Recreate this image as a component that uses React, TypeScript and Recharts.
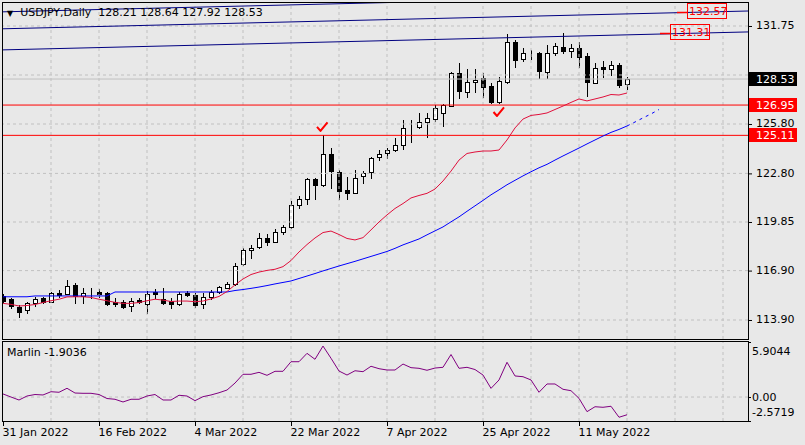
import React from "react";
import {
  ComposedChart,
  Bar,
  Line,
  XAxis,
  YAxis,
  ReferenceLine,
  ReferenceDot,
} from "recharts";

document.body.style.margin = "0";

// USDJPY daily bars, 31 Jan 2022 .. 19 May 2022
const opens = [
  115.36, 115.15, 114.67, 114.51, 114.91, 115.25, 115.01, 115.56, 115.48, 116.03,
  115.36, 115.62, 115.62, 115.52, 115.01, 115.01, 114.75, 115.11, 114.85, 115.58,
  115.18, 115.05, 114.85, 115.52, 115.42, 114.85, 115.28, 115.62, 115.84, 116.09,
  117.28, 118.15, 118.35, 118.86, 118.66, 119.22, 119.53, 120.88, 121.23, 122.44,
  122.09, 123.96, 122.9, 121.8, 121.63, 122.62, 122.9, 123.78, 124.03, 124.23,
  124.5, 125.63, 125.63, 125.9, 126.1, 126.45, 126.91, 128.88, 127.76, 128.33,
  128.57, 128.11, 127.16, 128.37, 130.8, 129.72, 130.05, 130.13, 128.98, 130.13,
  130.45, 130.25, 130.4, 129.93, 128.31, 129.28, 129.12, 129.38, 128.21,
];
const highs = [
  115.45, 115.22, 114.81, 115.01, 115.32, 115.32, 115.6, 115.72, 116.33, 116.13,
  115.82, 115.82, 115.76, 115.58, 115.22, 115.1, 115.22, 115.22, 115.66, 115.76,
  115.82, 115.22, 115.62, 115.66, 115.52, 115.56, 115.72, 115.97, 116.21, 117.34,
  118.25, 118.45, 119.16, 119.1, 119.43, 119.67, 121.12, 121.45, 122.5, 122.54,
  125.11, 124.32, 123.0, 122.56, 122.99, 122.96, 123.78, 124.22, 124.36, 124.94,
  126.06, 126.06, 126.49, 126.49, 126.95, 127.01, 128.97, 129.48, 129.12, 129.12,
  128.88, 128.27, 128.67, 131.26, 130.9, 130.4, 130.3, 130.19, 130.6, 130.74,
  131.34, 130.66, 130.8, 130.09, 129.48, 129.63, 129.63, 129.48, 128.64,
];
const lows = [
  115.0, 114.61, 114.1, 114.34, 114.75, 114.95, 114.97, 115.32, 115.48, 114.95,
  114.95, 115.22, 115.32, 114.81, 114.75, 114.61, 114.46, 114.91, 114.34, 115.22,
  114.85, 114.61, 114.81, 115.36, 114.67, 114.61, 115.2, 115.56, 115.82, 116.03,
  117.24, 117.68, 118.29, 118.45, 118.62, 119.14, 119.51, 120.72, 120.92, 121.23,
  122.05, 121.91, 121.23, 121.23, 121.63, 122.2, 122.5, 123.62, 123.72, 124.16,
  124.27, 124.72, 125.54, 125.03, 125.98, 125.68, 126.89, 127.4, 127.46, 127.74,
  127.46, 127.09, 127.09, 128.31, 129.28, 129.62, 129.72, 128.57, 128.57, 129.99,
  130.09, 129.89, 129.28, 127.5, 128.27, 128.67, 128.77, 128.03, 127.92,
];
const closes = [
  115.07, 114.75, 114.4, 114.91, 115.18, 115.01, 115.52, 115.4, 115.96, 115.36,
  115.56, 115.58, 115.48, 114.87, 114.87, 114.71, 115.05, 114.97, 115.48, 115.46,
  114.95, 114.85, 115.48, 115.4, 114.81, 115.31, 115.58, 115.89, 116.09, 117.2,
  118.15, 118.29, 118.86, 118.66, 119.26, 119.57, 120.88, 121.23, 122.44, 122.09,
  123.96, 122.94, 121.75, 121.63, 122.5, 122.82, 123.76, 123.98, 124.23, 124.52,
  125.58, 125.6, 125.93, 126.15, 126.76, 126.95, 128.88, 127.8, 128.33, 128.47,
  128.06, 127.16, 128.41, 130.8, 129.69, 130.09, 130.07, 129.03, 130.13, 130.53,
  130.25, 130.4, 129.89, 128.33, 129.18, 129.12, 129.38, 128.17, 128.53,
];

// moving averages as drawn on the chart
const fastMa = [
  114.91, 114.85, 114.75, 114.78, 114.84, 114.96, 115.07, 115.16, 115.3, 115.31,
  115.31, 115.27, 115.16, 115.07, 114.97, 114.91, 114.91, 114.96, 115.07, 115.16,
  115.11, 115.02, 115.05, 115.05, 115.01, 115.05, 115.18, 115.33, 115.63, 116.03,
  116.39, 116.66, 116.81, 116.91, 116.98, 117.14, 117.51, 118.03, 118.48, 118.88,
  119.21, 119.3, 119.09, 118.85, 118.76, 118.9, 119.37, 119.85, 120.28, 120.67,
  120.97, 121.31, 121.46, 121.59, 121.85, 122.34, 122.94, 123.61, 124.01, 124.1,
  124.16, 124.16, 124.22, 124.83, 125.56, 126.1, 126.32, 126.38, 126.47, 126.68,
  126.89, 127.11, 127.32, 127.2, 127.32, 127.44, 127.59, 127.56, 127.68,
];
const slowMa = [
  115.31, 115.31, 115.31, 115.31, 115.36, 115.36, 115.36, 115.36, 115.36, 115.36,
  115.36, 115.36, 115.36, 115.36, 115.6, 115.6, 115.6, 115.6, 115.6, 115.6,
  115.6, 115.6, 115.6, 115.6, 115.6, 115.6, 115.6, 115.6, 115.6, 115.69,
  115.75, 115.82, 115.9, 115.99, 116.09, 116.18, 116.27, 116.42, 116.57, 116.72,
  116.88, 117.03, 117.18, 117.32, 117.46, 117.61, 117.76, 117.91, 118.06, 118.25,
  118.46, 118.64, 118.82, 119.07, 119.31, 119.55, 119.86, 120.16, 120.5, 120.83,
  121.16, 121.5, 121.8, 122.11, 122.38, 122.65, 122.9, 123.14, 123.35, 123.61,
  123.86, 124.1, 124.34, 124.59, 124.83, 125.07, 125.29, 125.47, 125.68,
];
// dashed forward part of the slow average, bars 78..82
const slowMaAhead = [125.68, 125.92, 126.17, 126.41, 126.68];

const marlin = [
  0.33, 0.0, -0.32, 0.11, 0.27, 0.22, 0.57, 0.51, 0.94, 0.43,
  0.4, 0.4, 0.27, -0.16, -0.24, -0.53, -0.24, -0.24, 0.11, 0.27,
  -0.32, -0.32, 0.19, 0.11, -0.39, 0.04, 0.22, 0.46, 0.75, 1.5,
  2.44, 2.44, 2.65, 2.33, 2.76, 2.76, 3.79, 3.79, 4.69, 4.05,
  5.47, 4.16, 2.79, 2.36, 2.82, 2.72, 3.3, 3.04, 2.9, 2.9,
  3.54, 3.15, 3.08, 2.87, 3.11, 3.19, 4.56, 3.08, 3.19, 2.95,
  2.36, 0.93, 1.83, 3.73, 2.26, 2.18, 1.83, 0.51, 1.4, 1.4,
  0.83, 0.68, -0.14, -1.57, -1.04, -1.1, -0.99, -2.17, -1.9036,
];

const dateTicks = [0, 12, 24, 36, 48, 60, 72];
const dateLabels = [
  "31 Jan 2022",
  "16 Feb 2022",
  "4 Mar 2022",
  "22 Mar 2022",
  "7 Apr 2022",
  "25 Apr 2022",
  "11 May 2022",
];
const priceTicks = [131.75, 125.8, 122.8, 119.85, 116.9, 113.9];
const priceGrid = [131.75, 128.775, 125.8, 122.8, 119.85, 116.9, 113.9];
const gridBars = [6, 12, 18, 24, 30, 36, 42, 48, 54, 60, 66, 72, 78, 84, 90];
const oscTicks = [5.9044, 0, -2.5719];

const lastPrice = 128.53;
const levels = [126.95, 125.11];
// channel lines: [bar, price] at both ends
const channel = [
  [0, 130.3, 93.125, 131.39],
  [0, 131.58, 93.125, 132.66],
  [0, 132.61, 93.125, 133.7],
];
const tags = [
  { bar: 84.25, price: 132.57, text: "132.57" },
  { bar: 82.125, price: 131.31, text: "131.31" },
];
const checks = [
  [39.875, 125.62],
  [61.94, 126.53],
];

const X_MAX = 93.125;
const FONT = "'DejaVu Sans', sans-serif";

const mainData = Array.from({ length: 83 }, (_, i) => ({
  i,
  range: i < closes.length ? [lows[i], highs[i]] : undefined,
  open: opens[i],
  high: highs[i],
  low: lows[i],
  close: closes[i],
  fast: fastMa[i],
  slow: slowMa[i],
  ahead: i >= 78 ? slowMaAhead[i - 78] : undefined,
}));

const subData = marlin.map((v, i) => ({ i, marlin: v }));

const Candle = (props: any) => {
  const { x, y, width, height, payload } = props;
  if (!payload || payload.open == null) return null;
  const { open, close, high, low } = payload;
  const yTop = Math.min(y, y + height);
  const span = Math.abs(height);
  const k = span / (high - low);
  const cx = Math.round(x + width / 2);
  const py = (v: number) => Math.round(yTop + (high - v) * k);
  const top = py(Math.max(open, close));
  const bot = py(Math.min(open, close));
  const up = close >= open;
  return (
    <g>
      <line
        x1={cx + 0.5}
        x2={cx + 0.5}
        y1={py(high)}
        y2={py(low) + 1}
        stroke="#000"
        strokeWidth={1}
      />
      <rect
        x={cx - 1.5}
        y={top + 0.5}
        width={4}
        height={Math.max(bot - top, 0)}
        fill={up ? "#fff" : "#000"}
        stroke="#000"
        strokeWidth={1}
      />
    </g>
  );
};

const PriceTick = (props: any) => {
  const { y, payload } = props;
  return (
    <g>
      <line x1={749} x2={752} y1={y + 0.5} y2={y + 0.5} stroke="#000" />
      <text x={756} y={y} dominantBaseline="central" fontSize={11} fontFamily={FONT} fill="#000">
        {payload.value.toFixed(2)}
      </text>
    </g>
  );
};

const OscTick = (props: any) => {
  const { y, payload } = props;
  const v = payload.value;
  const dy = v === oscTicks[0] ? 9 : v === oscTicks[2] ? -8.5 : 0;
  const label = v === 0 ? "0.00" : v.toFixed(4);
  return (
    <g>
      <line x1={748} x2={751} y1={y + 0.5} y2={y + 0.5} stroke="#000" />
      <text x={752} y={y + dy} dominantBaseline="central" fontSize={11} fontFamily={FONT} fill="#000">
        {label}
      </text>
    </g>
  );
};

const DateTick = (props: any) => {
  const { x, payload } = props;
  const idx = dateTicks.indexOf(payload.value);
  const cx = Math.round(x);
  return (
    <g>
      <line x1={cx + 0.5} x2={cx + 0.5} y1={80} y2={85} stroke="#000" />
      <text x={cx - 0.5} y={91} dominantBaseline="central" fontSize={11} fontFamily={FONT} fill="#000">
        {dateLabels[idx]}
      </text>
    </g>
  );
};

const SideBox = ({ cx, cy, fill, text }: any) => (
  <g>
    <rect x={cx + 1} y={Math.round(cy) - 7} width={48} height={14} fill={fill} />
    <text x={756} y={cy} dominantBaseline="central" fontSize={11} fontFamily={FONT} fill="#fff">
      {text}
    </text>
  </g>
);

const Tag = ({ cx, cy, text }: any) => (
  <g>
    <line x1={cx} x2={cx + 10} y1={Math.round(cy) + 0.5} y2={Math.round(cy) + 0.5} stroke="#ff0000" strokeWidth={1.5} />
    <rect x={cx + 10.5} y={Math.round(cy) - 8.5} width={39} height={15} fill="none" stroke="#ff0000" />
    <text x={cx + 12} y={cy - 0.5} dominantBaseline="central" fontSize={11} fontFamily={FONT} fill="#ff0000">
      {text}
    </text>
  </g>
);

const Check = ({ cx, cy }: any) => (
  <path
    d={`M${cx - 5},${cy} L${cx - 1.5},${cy + 4} L${cx + 5.5},${cy - 4.5}`}
    fill="none"
    stroke="#ff0000"
    strokeWidth={2}
    strokeLinejoin="round"
  />
);

export default function App() {
  return (
    <div
      style={{
        position: "relative",
        width: 805,
        height: 445,
        background: "#e8e8e8",
        overflow: "hidden",
        fontFamily: FONT,
      }}
    >
      <div style={{ position: "absolute", left: 0, top: 0 }}>
        <ComposedChart
          width={805}
          height={339}
          data={mainData}
          margin={{ top: 3, right: 0, bottom: 0, left: 3 }}
        >
          <XAxis dataKey="i" type="number" domain={[0, X_MAX]} allowDataOverflow hide />
          <YAxis
            orientation="right"
            width={57}
            domain={[112.746, 133.146]}
            allowDataOverflow
            ticks={priceTicks}
            interval={0}
            tick={PriceTick}
            tickLine={false}
            axisLine={false}
          />
          {priceGrid.map((p) => (
            <ReferenceLine key={"h" + p} y={p} stroke="#c0c0c0" strokeDasharray="3 3" />
          ))}
          {gridBars.map((b) => (
            <ReferenceLine key={"v" + b} x={b} stroke="#c0c0c0" strokeDasharray="3 3" />
          ))}
          <ReferenceLine y={lastPrice} stroke="#c0c0c0" />
          {levels.map((p) => (
            <ReferenceLine key={"l" + p} y={p} stroke="#ff0000" />
          ))}
          {channel.map(([x1, y1, x2, y2], n) => (
            <ReferenceLine
              key={"c" + n}
              segment={[
                { x: x1, y: y1 },
                { x: x2, y: y2 },
              ]}
              stroke="#000080"
              strokeWidth={1}
              ifOverflow="hidden"
            />
          ))}
          <Line
            dataKey="slow"
            stroke="#0000ff"
            strokeWidth={1}
            dot={false}
            isAnimationActive={false}
          />
          <Line
            dataKey="ahead"
            stroke="#0000ff"
            strokeWidth={1}
            strokeDasharray="3 4"
            dot={false}
            isAnimationActive={false}
          />
          <Line
            dataKey="fast"
            stroke="#e0103c"
            strokeWidth={1}
            dot={false}
            isAnimationActive={false}
          />
          <Bar dataKey="range" barSize={5} shape={Candle} isAnimationActive={false} />
          {checks.map(([b, p], n) => (
            <ReferenceDot key={"k" + n} x={b} y={p} r={0} ifOverflow="visible" shape={Check} />
          ))}
          {tags.map((t) => (
            <ReferenceDot
              key={t.text}
              x={t.bar}
              y={t.price}
              r={0}
              ifOverflow="visible"
              shape={(p: any) => <Tag {...p} text={t.text} />}
            />
          ))}
          <ReferenceDot
            x={X_MAX}
            y={lastPrice}
            r={0}
            ifOverflow="visible"
            shape={(p: any) => <SideBox {...p} fill="#000" text={lastPrice.toFixed(2)} />}
          />
          {levels.map((v) => (
            <ReferenceDot
              key={"b" + v}
              x={X_MAX}
              y={v}
              r={0}
              ifOverflow="visible"
              shape={(p: any) => <SideBox {...p} fill="#ff0000" text={v.toFixed(2)} />}
            />
          ))}
        </ComposedChart>
      </div>

      <div style={{ position: "absolute", left: 0, top: 341 }}>
        <ComposedChart
          width={805}
          height={104}
          data={subData}
          margin={{ top: 1, right: 0, bottom: 0, left: 3 }}
        >
          <XAxis
            dataKey="i"
            type="number"
            domain={[0, X_MAX]}
            allowDataOverflow
            ticks={dateTicks}
            interval={0}
            height={24}
            tick={DateTick}
            tickLine={false}
            axisLine={false}
          />
          <YAxis
            orientation="right"
            width={57}
            domain={[oscTicks[2], oscTicks[0]]}
            allowDataOverflow
            ticks={oscTicks}
            interval={0}
            tick={OscTick}
            tickLine={false}
            axisLine={false}
          />
          {gridBars.map((b) => (
            <ReferenceLine key={"sv" + b} x={b} stroke="#c0c0c0" strokeDasharray="3 3" />
          ))}
          <ReferenceLine y={0} stroke="#c0c0c0" strokeDasharray="3 3" />
          <Line
            dataKey="marlin"
            stroke="#800080"
            strokeWidth={1}
            dot={false}
            isAnimationActive={false}
          />
        </ComposedChart>
      </div>

      {/* cover the half candle that sticks out past the left border */}
      <div
        style={{
          position: "absolute",
          left: 0,
          top: 3,
          width: 2,
          height: 336,
          background: "#e8e8e8",
        }}
      />
      <div
        style={{
          position: "absolute",
          left: 2,
          top: 2,
          width: 747,
          height: 338,
          border: "1px solid #000",
          boxSizing: "border-box",
          pointerEvents: "none",
        }}
      />
      <div
        style={{
          position: "absolute",
          left: 2,
          top: 341,
          width: 747,
          height: 81,
          border: "1px solid #000",
          boxSizing: "border-box",
          pointerEvents: "none",
        }}
      />

      <div
        style={{
          position: "absolute",
          left: 7,
          top: 6,
          fontSize: 11,
          lineHeight: "13px",
          whiteSpace: "pre",
          color: "#000",
        }}
      >
        <span style={{ fontSize: 8, marginRight: 7 }}>▼</span>
        {"USDJPY,Daily  " + [opens[78], highs[78], lows[78], closes[78]].map((v) => v.toFixed(2)).join(" ")}
      </div>
      <div
        style={{
          position: "absolute",
          left: 7,
          top: 346,
          fontSize: 11,
          lineHeight: "13px",
          whiteSpace: "pre",
          color: "#000",
        }}
      >
        {"Marlin " + marlin[marlin.length - 1].toFixed(4)}
      </div>
    </div>
  );
}
